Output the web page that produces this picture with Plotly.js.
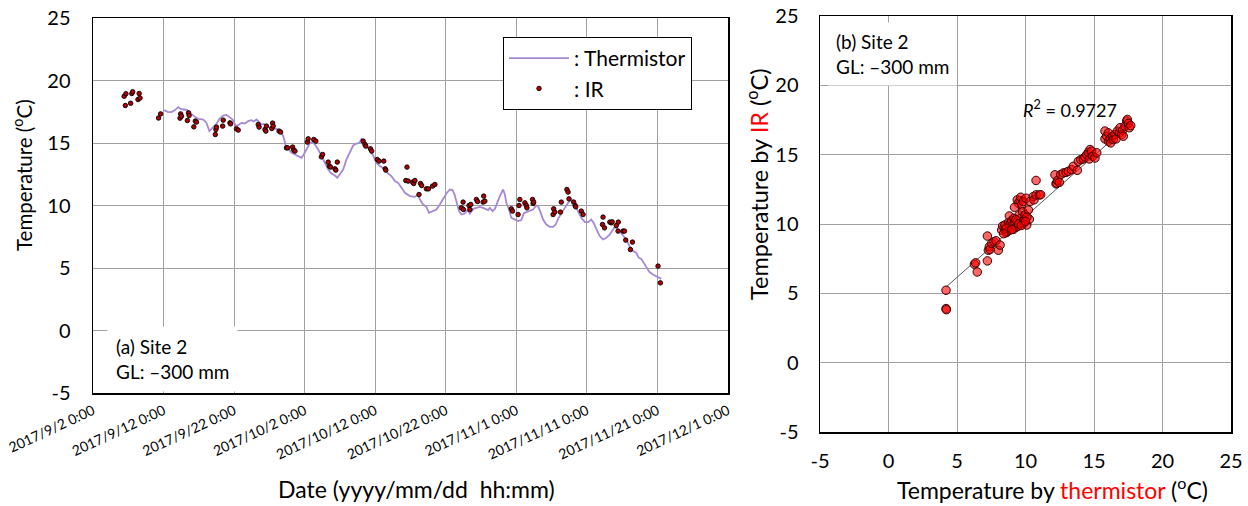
<!DOCTYPE html>
<html>
<head>
<meta charset="utf-8">
<script src="https://cdn.plot.ly/plotly-3.0.1.min.js"></script>
<style>html,body{margin:0;padding:0;background:#fff;}#chart{width:1248px;height:506px;}</style>
</head>
<body>
<div id="chart"></div>
<script>
// ---------- (a) time series ----------
const thermTime = [
'2017-09-12 02:00','2017-09-12 13:00','2017-09-13 03:00','2017-09-13 15:00','2017-09-14 02:00','2017-09-14 10:00','2017-09-14 21:00','2017-09-15 09:00','2017-09-15 18:00','2017-09-16 03:00',
'2017-09-16 12:00','2017-09-16 22:00','2017-09-17 06:00','2017-09-17 15:00','2017-09-18 02:00','2017-09-18 12:00','2017-09-18 19:00','2017-09-19 03:00','2017-09-19 12:00','2017-09-19 22:00',
'2017-09-20 11:00','2017-09-20 22:00','2017-09-21 10:00','2017-09-21 19:00','2017-09-22 06:00','2017-09-22 14:00','2017-09-23 01:00','2017-09-23 13:00','2017-09-24 00:00','2017-09-24 11:00',
'2017-09-24 19:00','2017-09-25 04:00','2017-09-25 13:00','2017-09-25 21:00','2017-09-26 05:00','2017-09-26 17:00','2017-09-27 02:00','2017-09-27 13:00','2017-09-28 00:00','2017-09-28 09:00',
'2017-09-28 17:00','2017-09-29 01:00','2017-09-29 08:00','2017-09-29 16:00','2017-09-30 03:00','2017-09-30 15:00','2017-10-01 02:00','2017-10-01 13:00','2017-10-01 21:00','2017-10-02 06:00',
'2017-10-02 18:00','2017-10-03 03:00','2017-10-03 11:00','2017-10-03 22:00','2017-10-04 09:00','2017-10-04 21:00','2017-10-05 08:00','2017-10-05 19:00','2017-10-06 07:00','2017-10-06 15:00',
'2017-10-07 00:00','2017-10-07 11:00','2017-10-07 22:00','2017-10-08 10:00','2017-10-08 21:00','2017-10-09 08:00','2017-10-09 18:00','2017-10-10 01:00','2017-10-10 09:00','2017-10-10 18:00',
'2017-10-11 06:00','2017-10-11 17:00','2017-10-12 04:00','2017-10-12 16:00','2017-10-13 09:00','2017-10-13 20:00','2017-10-14 07:00','2017-10-14 19:00','2017-10-15 06:00','2017-10-15 17:00',
'2017-10-16 05:00','2017-10-16 22:00','2017-10-17 15:00','2017-10-18 02:00','2017-10-18 08:00','2017-10-18 19:00','2017-10-19 06:00','2017-10-19 15:00','2017-10-20 03:00','2017-10-20 16:00',
'2017-10-21 04:00','2017-10-21 15:00','2017-10-22 02:00','2017-10-22 14:00','2017-10-22 23:00','2017-10-23 06:00','2017-10-23 15:00','2017-10-23 21:00','2017-10-24 05:00','2017-10-24 17:00',
'2017-10-25 02:00','2017-10-25 10:00','2017-10-25 21:00','2017-10-26 08:00','2017-10-26 20:00','2017-10-27 07:00','2017-10-27 18:00','2017-10-28 00:00','2017-10-28 06:00','2017-10-28 15:00',
'2017-10-28 23:00','2017-10-29 06:00','2017-10-29 16:00','2017-10-30 03:00','2017-10-30 09:00','2017-10-30 14:00','2017-10-30 23:00','2017-10-31 07:00','2017-10-31 18:00','2017-11-01 06:00',
'2017-11-01 17:00','2017-11-02 01:00','2017-11-02 10:00','2017-11-02 22:00','2017-11-03 09:00','2017-11-03 20:00','2017-11-04 02:00','2017-11-04 10:00','2017-11-04 19:00','2017-11-05 06:00',
'2017-11-05 18:00','2017-11-06 05:00','2017-11-06 14:00','2017-11-06 22:00','2017-11-07 09:00','2017-11-07 21:00','2017-11-08 08:00','2017-11-08 19:00','2017-11-09 01:00','2017-11-09 10:00',
'2017-11-09 18:00','2017-11-10 05:00','2017-11-10 17:00','2017-11-11 04:00','2017-11-11 15:00','2017-11-11 23:00','2017-11-12 08:00','2017-11-12 19:00','2017-11-13 07:00','2017-11-13 18:00',
'2017-11-14 06:00','2017-11-14 17:00','2017-11-14 23:00','2017-11-15 04:00','2017-11-15 16:00','2017-11-16 03:00','2017-11-16 14:00','2017-11-17 01:00','2017-11-17 13:00','2017-11-18 00:00',
'2017-11-18 09:00','2017-11-18 17:00','2017-11-19 01:00','2017-11-19 10:00','2017-11-19 21:00','2017-11-20 09:00','2017-11-20 20:00','2017-11-21 07:00','2017-11-21 13:00'
];
const thermTemp = [
17.63,17.49,17.47,17.63,17.87,17.73,17.68,17.63,17.41,17.20,
17.07,16.93,16.88,16.88,16.61,15.95,16.13,16.35,16.53,16.93,
17.20,17.25,17.07,16.88,16.35,16.43,16.61,16.56,16.75,16.83,
16.72,16.88,16.67,16.48,16.53,16.35,16.21,16.16,16.13,16.03,
15.87,15.41,14.75,14.59,14.21,14.08,13.95,13.81,14.08,14.48,
15.01,15.07,14.88,14.48,13.95,13.41,12.88,12.56,12.40,12.21,
12.48,12.88,13.68,14.21,14.80,14.96,15.01,15.33,15.15,14.80,
14.35,14.00,13.41,13.15,12.88,12.56,12.35,11.95,11.81,11.41,
11.01,10.75,10.69,10.88,10.48,10.08,9.89,9.41,9.55,9.68,
10.08,10.48,10.96,11.28,11.23,10.88,10.08,9.55,9.28,9.36,
9.63,9.35,9.73,9.81,9.89,9.81,9.73,9.63,9.81,9.55,
9.73,10.21,10.75,11.28,10.88,10.21,9.68,9.01,8.88,8.75,
8.83,9.36,9.47,9.55,9.68,10.00,9.95,9.47,8.88,8.48,
8.29,8.29,8.48,8.93,9.41,9.81,10.21,10.48,10.35,9.95,
9.55,9.01,8.67,8.67,8.88,8.61,8.13,7.58,7.28,7.41,
7.68,8.08,8.29,8.21,7.95,7.60,7.28,6.75,6.35,6.21,
5.81,5.73,5.41,5.01,4.67,4.48,4.35,4.21,4.13
];
const irTime = [
'2017-09-06 10:00','2017-09-06 14:00','2017-09-06 16:00','2017-09-07 08:00','2017-09-07 12:00','2017-09-07 15:00','2017-09-08 09:00','2017-09-08 13:00','2017-09-08 16:00','2017-09-11 07:00',
'2017-09-11 14:00','2017-09-14 08:00','2017-09-14 10:00','2017-09-14 13:00','2017-09-15 09:00','2017-09-15 13:00','2017-09-15 15:00','2017-09-16 07:00','2017-09-16 12:00','2017-09-16 16:00',
'2017-09-19 08:00','2017-09-19 10:00','2017-09-19 12:00','2017-09-20 09:00','2017-09-20 11:00','2017-09-21 10:00','2017-09-21 12:00','2017-09-22 08:00','2017-09-22 14:00','2017-09-25 10:00',
'2017-09-25 13:00','2017-09-26 09:00','2017-09-26 12:00','2017-09-26 14:00','2017-09-27 08:00','2017-09-27 11:00','2017-09-27 13:00','2017-09-28 09:00','2017-09-28 14:00','2017-09-29 10:00',
'2017-09-29 14:00','2017-09-30 07:00','2017-09-30 11:00','2017-09-30 15:00','2017-10-02 09:00','2017-10-02 12:00','2017-10-03 07:00','2017-10-03 14:00','2017-10-04 09:00','2017-10-04 13:00',
'2017-10-05 08:00','2017-10-05 12:00','2017-10-05 16:00','2017-10-06 07:00','2017-10-06 10:00','2017-10-06 15:00','2017-10-10 07:00','2017-10-10 13:00','2017-10-10 16:00','2017-10-11 08:00',
'2017-10-11 12:00','2017-10-12 07:00','2017-10-12 13:00','2017-10-13 05:00','2017-10-13 10:00','2017-10-13 12:00','2017-10-16 08:00','2017-10-16 12:00','2017-10-16 16:00','2017-10-17 07:00',
'2017-10-17 11:00','2017-10-17 15:00','2017-10-18 05:00','2017-10-18 10:00','2017-10-18 14:00','2017-10-19 06:00','2017-10-19 13:00','2017-10-20 03:00','2017-10-20 11:00','2017-10-24 05:00',
'2017-10-24 11:00','2017-10-24 12:00','2017-10-25 07:00','2017-10-25 10:00','2017-10-25 13:00','2017-10-26 08:00','2017-10-26 12:00','2017-10-27 07:00','2017-10-27 09:00','2017-10-27 13:00',
'2017-10-31 07:00','2017-10-31 11:00','2017-11-01 06:00','2017-11-01 09:00','2017-11-01 12:00','2017-11-02 05:00','2017-11-02 10:00','2017-11-02 12:00','2017-11-03 07:00','2017-11-03 09:00',
'2017-11-03 11:00','2017-11-06 05:00','2017-11-06 07:00','2017-11-06 11:00','2017-11-07 06:00','2017-11-07 09:00','2017-11-08 04:00','2017-11-08 08:00','2017-11-08 11:00','2017-11-09 03:00',
'2017-11-09 08:00','2017-11-09 10:00','2017-11-10 05:00','2017-11-10 11:00','2017-11-13 05:00','2017-11-13 07:00','2017-11-13 12:00','2017-11-14 06:00','2017-11-14 11:00','2017-11-14 14:00',
'2017-11-15 04:00','2017-11-15 10:00','2017-11-15 11:00','2017-11-16 03:00','2017-11-16 08:00','2017-11-16 12:00','2017-11-17 04:00','2017-11-17 11:00','2017-11-21 02:00','2017-11-21 10:00'
];
const irTemp = [
18.74,18.00,18.94,18.18,18.96,19.10,18.48,18.96,18.60,17.00,
17.33,16.99,17.33,17.15,16.80,17.41,17.20,16.29,16.75,16.67,
15.68,16.08,16.27,16.35,16.83,16.61,16.53,16.13,16.03,16.48,
16.27,16.08,15.95,16.35,16.16,16.59,16.35,15.95,15.87,14.61,
14.61,14.67,14.43,14.35,15.07,15.33,15.28,15.15,13.89,14.08,
13.47,13.15,13.07,12.93,12.83,13.47,15.15,14.88,14.75,14.53,
14.35,13.68,13.55,13.55,12.93,12.83,12.00,13.07,11.95,11.87,
11.76,12.00,10.88,11.76,11.60,11.33,11.33,11.55,11.68,9.81,
10.27,9.68,10.00,9.68,10.08,10.48,10.32,10.27,10.75,10.35,
9.73,9.55,9.28,10.00,10.48,10.21,10.00,9.81,10.48,10.16,
10.27,9.28,9.73,9.47,9.47,10.27,11.28,11.07,10.53,10.27,
10.00,9.89,9.55,9.28,8.48,9.07,8.21,8.67,8.61,8.69,
8.40,7.95,8.67,7.95,7.95,7.23,6.48,7.07,5.15,3.81
];
const dateTicks = ['2017-09-02','2017-09-12','2017-09-22','2017-10-02','2017-10-12','2017-10-22','2017-11-01','2017-11-11','2017-11-21','2017-12-01'];
const dateTickLabels = ['2017/9/2 0:00','2017/9/12 0:00','2017/9/22 0:00','2017/10/2 0:00','2017/10/12 0:00','2017/10/22 0:00','2017/11/1 0:00','2017/11/11 0:00','2017/11/21 0:00','2017/12/1 0:00'];
const tempTicks = [-5,0,5,10,15,20,25];
const tempTickLabels = ['-5','0','5','10','15','20','25'];

// ---------- (b) scatter: thermistor vs IR ----------
const scatThermistor = [
4.20,4.20,4.22,6.27,6.36,6.48,7.22,7.22,7.29,7.36,7.41,7.53,7.70,7.85,8.02,8.14,8.26,8.33,8.50,8.50,
8.58,8.67,8.75,8.82,8.87,8.87,8.99,9.06,9.11,9.16,9.23,9.31,9.40,9.40,9.48,9.48,9.55,9.60,9.65,9.65,
9.72,9.72,9.79,9.84,9.89,9.96,10.04,10.09,10.21,10.28,10.33,10.57,10.62,10.77,10.77,11.01,11.11,12.15,12.23,12.28,
12.33,12.47,12.57,12.76,12.96,13.13,13.37,13.49,13.78,13.86,14.03,14.22,14.34,14.47,14.59,14.66,14.71,14.83,14.90,15.07,
15.20,15.80,15.80,15.93,16.05,16.05,16.17,16.22,16.36,16.41,16.53,16.61,16.70,16.85,16.90,17.02,17.09,17.14,17.26,17.39,
17.43,17.51,17.58,17.68,8.60,9.00,9.30,9.50,9.90,10.10,9.20,8.40,9.70,10.00
];
const scatIR = [
5.22,3.90,3.82,7.10,7.20,6.54,7.34,9.13,8.11,8.36,8.16,8.60,8.72,8.79,8.11,8.48,9.56,9.85,9.61,9.93,
9.37,9.44,10.10,10.58,9.56,10.00,10.24,9.93,9.61,10.41,10.05,9.76,10.17,11.74,9.85,11.50,10.65,11.69,10.41,11.93,
10.05,11.37,10.89,11.62,10.29,10.65,11.86,9.93,11.01,10.34,11.62,11.98,11.74,12.10,13.14,12.10,12.11,13.55,12.90,12.94,
13.14,13.00,13.56,13.68,13.72,13.80,13.92,14.16,13.87,14.52,14.64,14.69,14.84,15.00,15.17,14.69,15.37,15.25,14.88,14.76,
15.13,16.70,16.14,16.33,15.97,16.57,16.14,15.85,16.33,16.09,16.45,16.14,16.70,16.57,16.94,16.45,16.77,16.33,17.06,17.42,
17.54,17.25,16.94,17.10,9.70,9.60,10.30,10.00,10.10,10.50,11.20,9.30,9.90,10.20
];
const trendThermistor = [4.2, 17.6];
const trendIR = [5.45, 17.2];
const axisTicks = [-5,0,5,10,15,20,25];
const axisTickLabels = ['-5','0','5','10','15','20','25'];

const FONT = 'Lato, "Open Sans", sans-serif';
const W = 1248, H = 506;
const px = v => v / W;
const py = v => (H - v) / H;

const traces = [
  {x: thermTime, y: thermTemp, type: 'scatter', mode: 'lines', name: ': Thermistor',
   line: {color: '#a689d4', width: 1.8}, xaxis: 'x', yaxis: 'y'},
  {x: irTime, y: irTemp, type: 'scatter', mode: 'markers', name: ': IR',
   marker: {color: '#b30000', size: 4.5, line: {color: '#000', width: 0.9}}, xaxis: 'x', yaxis: 'y'},
  {x: trendThermistor, y: trendIR, type: 'scatter', mode: 'lines', showlegend: false,
   line: {color: '#555', width: 1}, xaxis: 'x2', yaxis: 'y2'},
  {x: scatThermistor, y: scatIR, type: 'scatter', mode: 'markers', showlegend: false,
   marker: {color: 'rgba(255,0,0,0.6)', size: 8.5, line: {color: '#3a0000', width: 1}}, xaxis: 'x2', yaxis: 'y2'}
];

const gridCol = '#a0a0a0';
const layout = {
  width: W, height: H,
  margin: {l: 0, r: 0, t: 0, b: 0},
  paper_bgcolor: '#fff', plot_bgcolor: '#fff',
  font: {family: FONT, color: '#000', size: 16},
  showlegend: true,
  legend: {x: px(503), y: py(37), xanchor: 'left', yanchor: 'top', bgcolor: '#fff',
           bordercolor: '#000', borderwidth: 1, font: {size: 21, family: FONT},
           itemwidth: 60, tracegroupgap: 0},
  xaxis: {domain: [px(93), px(728)], type: 'date', range: ['2017-09-02', '2017-12-01'],
          tickmode: 'array', tickvals: dateTicks, ticktext: dateTickLabels, tickangle: -25,
          tickfont: {size: 14, family: FONT}, showgrid: true, gridcolor: gridCol, gridwidth: 1,
          showline: true, mirror: true, linecolor: '#000', linewidth: 1.5, zeroline: false,
          ticks: '', ticklabelstandoff: 3, anchor: 'y'},
  yaxis: {domain: [py(393), py(18)], range: [-5, 25], tickmode: 'array', tickvals: tempTicks, ticktext: tempTickLabels,
          tickfont: {size: 20, family: FONT}, showgrid: true, gridcolor: gridCol, gridwidth: 1,
          showline: true, mirror: true, linecolor: '#000', linewidth: 1.5, zeroline: false,
          ticks: '', ticklabelstandoff: 17, anchor: 'x'},
  xaxis2: {domain: [px(820), px(1231)], range: [-5, 25], tickmode: 'array', tickvals: axisTicks, ticktext: axisTickLabels,
          tickfont: {size: 20, family: FONT}, showgrid: true, gridcolor: gridCol, gridwidth: 1,
          showline: true, mirror: true, linecolor: '#000', linewidth: 1.5, zeroline: false,
          ticks: '', ticklabelstandoff: 10, anchor: 'y2'},
  yaxis2: {domain: [py(432), py(16)], range: [-5, 25], tickmode: 'array', tickvals: axisTicks, ticktext: axisTickLabels,
          tickfont: {size: 20, family: FONT}, showgrid: true, gridcolor: gridCol, gridwidth: 1,
          showline: true, mirror: true, linecolor: '#000', linewidth: 1.5, zeroline: false,
          ticks: '', ticklabelstandoff: 16, anchor: 'x2'},
  annotations: [
    {xref: 'paper', yref: 'paper', x: px(22), y: py(175), text: 'Temperature (<sup>o</sup>C)', textangle: -90,
     showarrow: false, font: {size: 20.5, family: FONT}, xanchor: 'center', yanchor: 'middle'},
    {xref: 'paper', yref: 'paper', x: px(416), y: py(489), text: 'Date (yyyy/mm/dd\u00a0\u00a0hh:mm)',
     showarrow: false, font: {size: 23, family: FONT}, xanchor: 'center', yanchor: 'middle'},
    {xref: 'paper', yref: 'paper', x: px(757), y: py(184),
     text: 'Temperature by <span style="color:#ff0000">IR</span> (<sup>o</sup>C)', textangle: -90,
     showarrow: false, font: {size: 23.5, family: FONT}, xanchor: 'center', yanchor: 'middle'},
    {xref: 'paper', yref: 'paper', x: px(1052), y: py(488),
     text: 'Temperature by <span style="color:#ff0000">thermistor</span> (<sup>o</sup>C)',
     showarrow: false, font: {size: 23, family: FONT}, xanchor: 'center', yanchor: 'middle'},
    {xref: 'paper', yref: 'paper', x: px(107), y: py(359), text: '(a) Site 2<br>GL: \u2013300 mm', align: 'left',
     showarrow: false, font: {size: 19, family: FONT}, xanchor: 'left', yanchor: 'middle',
     bgcolor: '#fff', borderpad: 8},
    {xref: 'paper', yref: 'paper', x: px(828), y: py(54), text: '(b) Site 2<br>GL: \u2013300 mm', align: 'left',
     showarrow: false, font: {size: 19, family: FONT}, xanchor: 'left', yanchor: 'middle',
     bgcolor: '#fff', borderpad: 7},
    {xref: 'x2', yref: 'y2', x: 9.67, y: 18.26, text: '<i>R</i><sup>2</sup> = 0.9727',
     showarrow: false, font: {size: 18, family: FONT}, xanchor: 'left', yanchor: 'middle'}
  ]
};

Plotly.newPlot('chart', traces, layout, {displayModeBar: false, staticPlot: true});
</script>
</body>
</html>
